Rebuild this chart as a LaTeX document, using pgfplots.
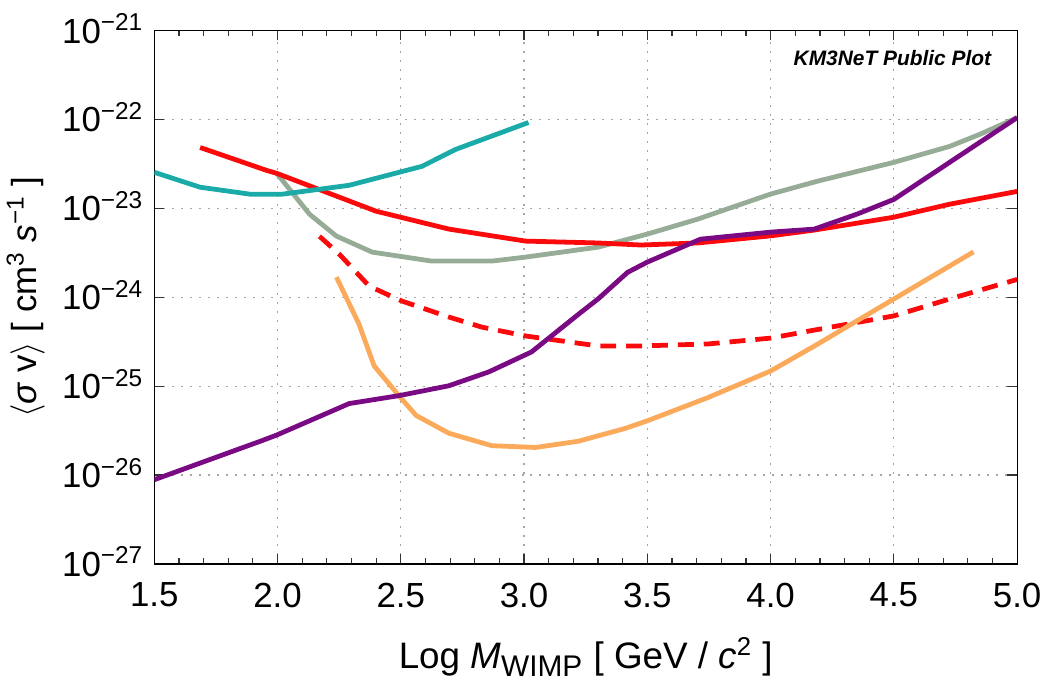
\documentclass[border=0pt]{standalone}
\usepackage{fontspec}
\setmainfont{Liberation Sans}
\usepackage{pgfplots}
\usepackage{pgfplotstable}
\pgfplotsset{compat=1.18}

\definecolor{cteal}{RGB}{26,170,168}
\definecolor{cred}{RGB}{250,10,10}
\definecolor{cgray}{RGB}{150,172,150}
\definecolor{corange}{RGB}{250,170,90}
\definecolor{cpurple}{RGB}{122,10,132}

% x = log10 mass, ly = log10 <sigma v>
\pgfplotstableread{
x ly
1.500 -22.595
1.686 -22.763
1.888 -22.841
2.020 -22.841
2.291 -22.741
2.586 -22.528
2.723 -22.337
3.018 -22.035
}\tealline

\pgfplotstableread{
x ly
1.686 -22.316
1.956 -22.574
1.997 -22.607
2.400 -23.033
2.695 -23.234
3.006 -23.369
3.300 -23.390
3.474 -23.413
3.704 -23.390
4.000 -23.310
4.177 -23.245
4.500 -23.100
4.726 -22.954
5.000 -22.810
}\redline

\pgfplotstableread{
x ly
2.170 -23.315
2.251 -23.517
2.372 -23.876
2.505 -24.044
2.695 -24.223
2.828 -24.336
3.006 -24.436
3.300 -24.548
3.474 -24.548
3.745 -24.526
4.000 -24.460
4.177 -24.370
4.500 -24.210
4.726 -24.020
5.000 -23.800
}\reddash

\pgfplotstableread{
x ly
1.997 -22.607
2.130 -23.067
2.239 -23.313
2.384 -23.493
2.626 -23.594
2.869 -23.594
3.006 -23.549
3.300 -23.437
3.500 -23.290
3.704 -23.122
4.000 -22.840
4.189 -22.696
4.500 -22.483
4.726 -22.304
4.847 -22.170
5.000 -21.980
}\grayline

\pgfplotstableread{
x ly
2.239 -23.775
2.330 -24.300
2.392 -24.773
2.493 -25.110
2.562 -25.330
2.695 -25.530
2.869 -25.670
3.046 -25.690
3.220 -25.620
3.410 -25.476
3.500 -25.390
3.745 -25.130
4.000 -24.830
4.177 -24.550
4.500 -24.020
4.823 -23.490
}\orangeline

\pgfplotstableread{
x ly
1.500 -26.053
1.940 -25.610
1.997 -25.550
2.291 -25.196
2.493 -25.107
2.695 -24.996
2.857 -24.840
3.030 -24.616
3.232 -24.167
3.300 -24.020
3.420 -23.720
3.500 -23.605
3.716 -23.347
4.000 -23.268
4.177 -23.234
4.350 -23.066
4.500 -22.900
4.726 -22.483
5.000 -21.980
}\purpleline

\begin{document}
\begin{tikzpicture}
\begin{axis}[
    scale only axis,
    width=433.5pt, height=268pt,
    xmin=1.5, xmax=5.0,
    ymode=log, log basis y=10,
    ymin=1e-27, ymax=1e-21,
    xtick={1.5,2.0,2.5,3.0,3.5,4.0,4.5,5.0},
    minor x tick num=4,
    ytickten={-27,-26,-25,-24,-23,-22,-21},
    xticklabel style={yshift=-6pt, /pgf/number format/.cd, fixed, fixed zerofill, precision=1, assume math mode=true},
    yticklabel={\pgfmathtruncatemacro{\e}{round(-\tick)}10\textsuperscript{−\e}},
    tick label style={font=\fontsize{17.5}{20}\selectfont},
    yticklabel style={anchor=base east, yshift=-6.3pt, xshift=-2pt},
    tick align=inside, tick pos=both,
    major tick length=5pt, minor tick length=3pt,
    every tick/.style={black!80, line width=0.6pt},
    axis line style={black, line width=0.6pt},
    grid=major,
    major grid style={black!35, line width=0.6pt, dash pattern=on 1pt off 3.5pt},
    xlabel={Log \textit{M}\textsubscript{\fontsize{15}{16}\selectfont WIMP} [ GeV / \textit{c}\textsuperscript{2} ]},
    ylabel={$\langle$\textit{σ} v$\rangle$ [ cm\textsuperscript{3} \textit{s}\textsuperscript{−1} ]},
    xlabel style={font=\fontsize{18.5}{21}\selectfont, at={(axis description cs:0.5,-0.175)}, anchor=center},
    ylabel style={font=\fontsize{17.5}{20}\selectfont, at={(axis description cs:-0.149,0.5)}, anchor=center},
    clip=true,
]
\addplot[cgray, line width=2.4pt] table[x=x, y expr=10^(\thisrow{ly})] {\grayline};
\addplot[cred, line width=2.4pt] table[x=x, y expr=10^(\thisrow{ly})] {\redline};
\addplot[cred, line width=2.4pt, dash pattern=on 8pt off 5pt] table[x=x, y expr=10^(\thisrow{ly})] {\reddash};
\addplot[corange, line width=2.4pt] table[x=x, y expr=10^(\thisrow{ly})] {\orangeline};
\addplot[cteal, line width=2.4pt] table[x=x, y expr=10^(\thisrow{ly})] {\tealline};
\addplot[cpurple, line width=2.4pt] table[x=x, y expr=10^(\thisrow{ly})] {\purpleline};
\node[anchor=east, font=\bfseries\itshape\fontsize{10.5}{12}\selectfont] at (axis description cs:0.978,0.948) {KM3NeT Public Plot};
\coordinate (topc) at (rel axis cs:0,1);
\end{axis}
% a little white space above the top tick label, as in the original
\path (topc) ++(0,15.3pt);
\end{tikzpicture}
\end{document}
